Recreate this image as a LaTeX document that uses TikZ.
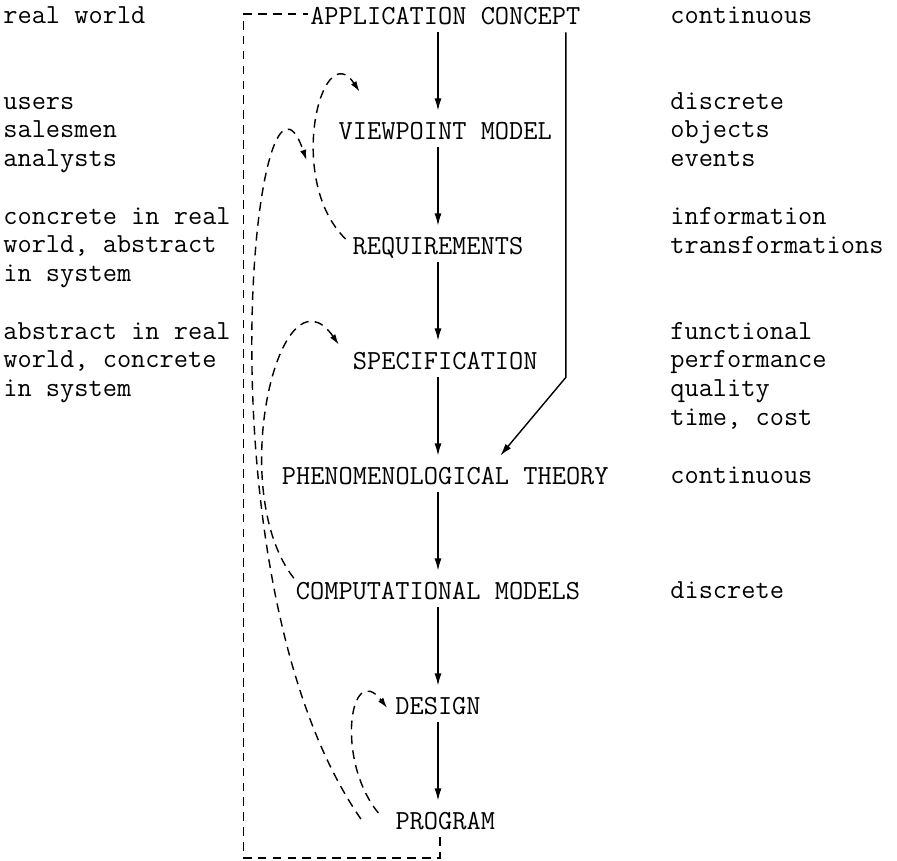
\documentclass[tikz,border=0pt]{standalone}
\usetikzlibrary{arrows.meta,calc,positioning}

\begin{document}
\begin{tikzpicture}[
  font=\fontsize{15.7pt}{16.37pt}\ttfamily\selectfont,
  node distance=2.3cm, on grid,
  stage/.style={inner xsep=1pt, inner ysep=1pt, text height=15.2pt, text depth=3.3pt},
  side/.style={inner sep=0pt, align=left, anchor=base west},
  arr/.style={-{Latex[length=7pt,width=4pt]}, line width=0.8pt},
  fb/.style={dash pattern=on 5pt off 3.5pt, line width=0.8pt},
  fbarr/.style={fb, -{Latex[length=6pt,width=3.6pt]}},
]
\useasboundingbox (0,0) rectangle (17.94,-17.22);

% ---- stages (top to bottom) ----
\node[stage] (app) at (8.905,-0.28) {APPLICATION CONCEPT};
\node[stage, below=of app] (view) {VIEWPOINT MODEL};
\node[stage, below=of view, xshift=-1.45mm] (req) {REQUIREMENTS};
\node[stage, below=of req, xshift=1.45mm] (spec) {SPECIFICATION};
\node[stage, below=of spec] (phen) {PHENOMENOLOGICAL THEORY};
\node[stage, below=of phen, xshift=-1.45mm] (comp) {COMPUTATIONAL MODELS};
\node[stage, below=of comp] (design) {DESIGN};
\node[stage, below=of design, xshift=1.45mm] (prog) {PROGRAM};

\draw[arr] (app.south -| req)    -- (view.north -| req);
\draw[arr] (view.south -| req)   -- (req.north);
\draw[arr] (req.south)           -- (spec.north -| req);
\draw[arr] (spec.south -| req)   -- (phen.north -| req);
\draw[arr] (phen.south -| req)   -- (comp.north);
\draw[arr] (comp.south)          -- (design.north);
\draw[arr] (design.south)        -- (prog.north -| req);

% ---- left notes (anchored at last line) ----
\node[side] (world)  at (0.06,-0.46)  {real world};
\node[side] (people) at (0.06,-3.335) {users\\salesmen\\analysts};
\node[side] (concr)  at (0.06,-5.635) {concrete in real\\world, abstract\\in system};
\node[side] (abstr)  at (0.06,-7.935) {abstract in real\\world, concrete\\in system};

% ---- right notes ----
\node[side] (cont)  at (13.4,-0.46)  {continuous};
\node[side] (disc)  at (13.4,-3.335) {discrete\\objects\\events};
\node[side] (info)  at (13.4,-5.06)  {information\\transformations};
\node[side] (func)  at (13.4,-8.51)  {functional\\performance\\quality\\time, cost};
\node[side] (cont2) at (13.4,-9.66)  {continuous};
\node[side] (disc2) at (13.4,-11.96) {discrete};

% ---- shortcut from concept to theory ----
\coordinate (bend) at ($(app.south east)+(-0.33,-6.9)$);
\draw[arr] ([xshift=-3.3mm]app.south east) -- (bend) -- ([xshift=1.1cm]phen.north);

% ---- feedback loops ----
\coordinate (ret) at (4.87,-17.16);
\draw[fb] ([xshift=-1.05mm]prog.south) |- (ret) |- (app.west);

\draw[fbarr] ([shift={(-0.1,0.1)}]req.west)
  .. controls (5.7,-3.6) and (6.44,-0.7) .. ([shift={(0.46,0.38)}]view.north west);
\draw[fbarr] ([xshift=-6.5mm]prog.west)
  .. controls (3.9,-11.6) and (5.1,-0.2) .. ([shift={(-0.6,-0.26)}]view.south west);
\draw[fbarr] ([yshift=-1.5mm]comp.north west)
  .. controls (4.5,-9.8) and (5.6,-5.2) .. ([shift={(-0.24,-0.08)}]spec.north west);
\draw[fbarr] ([shift={(-0.3,0.12)}]prog.west)
  .. controls (6.7,-15.2) and (7.0,-13.2) .. ([shift={(-0.12,-0.08)}]design.west);

\end{tikzpicture}
\end{document}
